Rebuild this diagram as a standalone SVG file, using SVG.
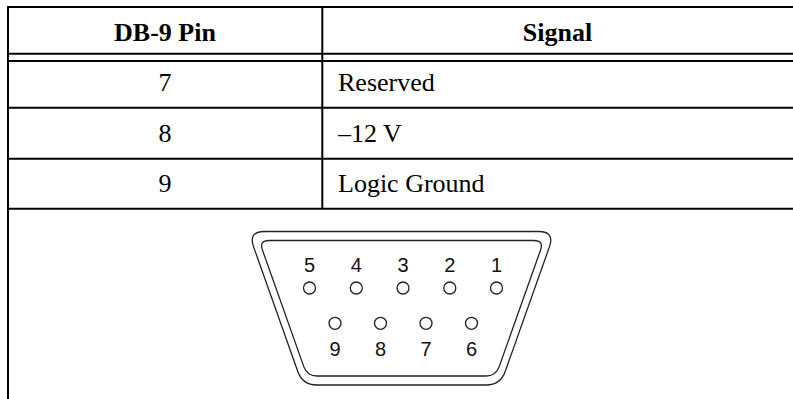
<svg xmlns="http://www.w3.org/2000/svg" width="793" height="399" viewBox="0 0 793 399">
  <style>
    .rule { stroke: #000; stroke-width: 2; fill: none; }
    .hdr { font-family: "Liberation Serif", "Times New Roman", serif; font-weight: bold; font-size: 26px; fill: #000; text-anchor: middle; }
    .cell { font-family: "Liberation Serif", "Times New Roman", serif; font-size: 26px; fill: #000; }
    .mid { text-anchor: middle; }
    .shell { stroke: #222; stroke-width: 1.3; fill: none; }
    .pin { stroke: #222; stroke-width: 1.3; fill: #fff; }
    .pinlbl { font-family: "Liberation Sans", Arial, sans-serif; font-size: 20px; fill: #111; text-anchor: middle; }
  </style>
  <rect width="793" height="399" fill="#fff"/>
  <g id="table-rules">
    <line class="rule" x1="7" y1="7" x2="793" y2="7"/>
    <line class="rule" x1="8" y1="6" x2="8" y2="399"/>
    <line class="rule" x1="322.3" y1="7" x2="322.3" y2="209"/>
    <line class="rule" x1="7" y1="53.7" x2="793" y2="53.7"/>
    <line class="rule" x1="7" y1="61" x2="793" y2="61"/>
    <line class="rule" x1="7" y1="107.7" x2="793" y2="107.7"/>
    <line class="rule" x1="7" y1="158.8" x2="793" y2="158.8"/>
    <line class="rule" x1="7" y1="208.8" x2="793" y2="208.8"/>
  </g>
  <g id="header">
    <text class="hdr" x="165" y="40.5">DB-9 Pin</text>
    <text class="hdr" x="557.5" y="40.5">Signal</text>
  </g>
  <g id="row-7">
    <text class="cell mid" x="165" y="91">7</text>
    <text class="cell" x="338" y="91">Reserved</text>
  </g>
  <g id="row-8">
    <text class="cell mid" x="165" y="141.5">8</text>
    <text class="cell" x="338" y="141.5">–12 V</text>
  </g>
  <g id="row-9">
    <text class="cell mid" x="165" y="191.5">9</text>
    <text class="cell" x="338" y="191.5">Logic Ground</text>
  </g>
  <g id="connector">
    <path class="shell" d="M264.2,231.5 H538.8 Q554.8,231.5 549.5,246.6 L505.1,371.8 Q500.4,385 486.4,385 H316.6 Q302.6,385 297.9,371.8 L253.5,246.6 Q248.2,231.5 264.2,231.5 Z"/>
    <path class="shell" d="M269.1,240.5 H533.9 Q543.9,240.5 540.6,249.9 L499.2,366.6 Q495.9,376 485.9,376 H317.1 Q307.1,376 303.8,366.6 L262.4,249.9 Q259.1,240.5 269.1,240.5 Z"/>
  </g>
  <g id="pins-top">
    <circle class="pin" cx="309.5" cy="288" r="6"/>
    <circle class="pin" cx="356.3" cy="288" r="6"/>
    <circle class="pin" cx="403" cy="288" r="6"/>
    <circle class="pin" cx="449.8" cy="288" r="6"/>
    <circle class="pin" cx="496.5" cy="288" r="6"/>
    <text class="pinlbl" x="309.5" y="272">5</text>
    <text class="pinlbl" x="356.3" y="272">4</text>
    <text class="pinlbl" x="403" y="272">3</text>
    <text class="pinlbl" x="449.8" y="272">2</text>
    <text class="pinlbl" x="496.5" y="272">1</text>
  </g>
  <g id="pins-bottom">
    <circle class="pin" cx="335" cy="323.3" r="6"/>
    <circle class="pin" cx="380.5" cy="323.3" r="6"/>
    <circle class="pin" cx="426" cy="323.3" r="6"/>
    <circle class="pin" cx="471.5" cy="323.3" r="6"/>
    <text class="pinlbl" x="335" y="355.5">9</text>
    <text class="pinlbl" x="380.5" y="355.5">8</text>
    <text class="pinlbl" x="426" y="355.5">7</text>
    <text class="pinlbl" x="471.5" y="355.5">6</text>
  </g>
</svg>
